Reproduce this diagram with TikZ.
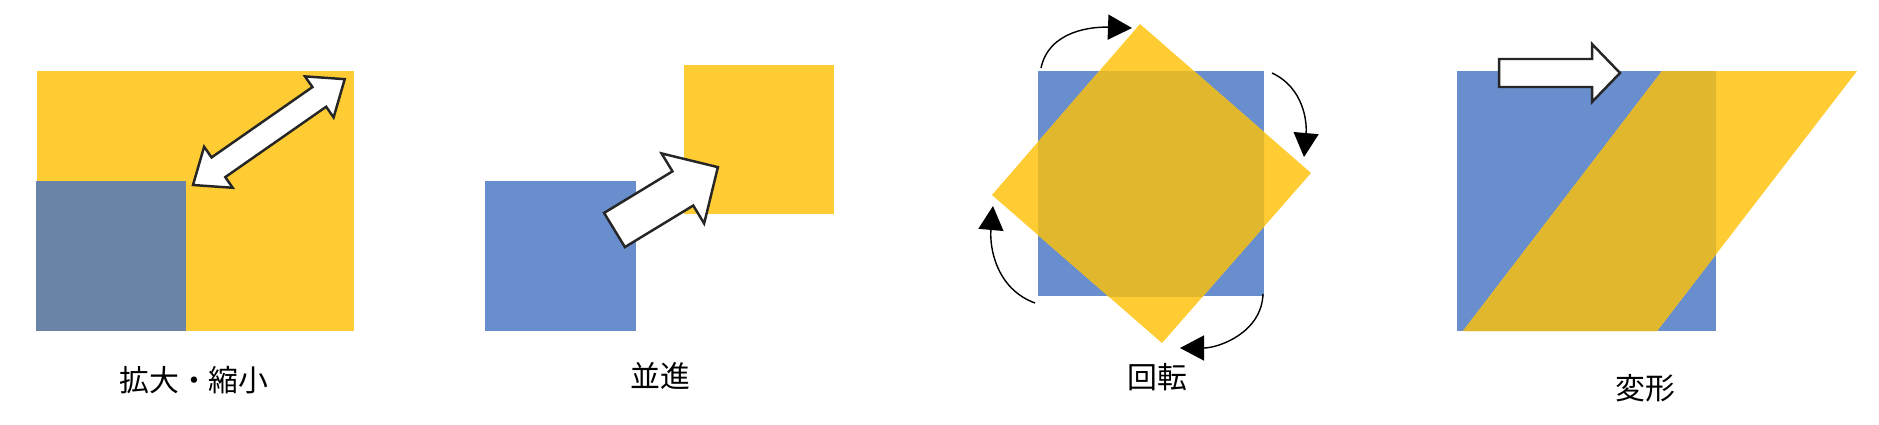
\documentclass[tikz,border=0pt]{standalone}
\usepackage{fontspec}
\newfontfamily\jpfont{Noto Sans CJK JP}
\usepackage{tikz}
\usetikzlibrary{arrows.meta}
\definecolor{tuhuang}{RGB}{255,204,51}
\definecolor{tulan}{RGB}{105,142,206}
\definecolor{huilan}{RGB}{106,132,168}
\definecolor{chongdie}{RGB}{224,183,45}
\tikzset{
	jiantou/.style={fill=white, draw=black!85, line width=0.7pt, line join=miter},
	huxian/.style={line width=0.4pt, -{Triangle[length=2.4mm,width=2.5mm]}},
	biaoti/.style={font=\jpfont\fontsize{8.5pt}{10pt}\selectfont, inner sep=0pt},
}

\begin{document}
\begin{tikzpicture}[x=0.01cm, y=0.01cm]
	\useasboundingbox (0,0) rectangle (1879,-424);
	
	% ===================== 第一个图 (拡大・縮小) =====================
	\fill[tuhuang] (37,-71) rectangle (354,-331);
	\fill[huilan] (36,-181) rectangle (186,-331);
	
	% 双向箭头
	\begin{scope}[shift={(193,-185)}, rotate=34.9]
		\draw[jiantou] (0,0) -- (31,25) -- (31,12) -- (154,12) -- (154,25) -- (185,0)
		-- (154,-25) -- (154,-12) -- (31,-12) -- (31,-25) -- cycle;
	\end{scope}
	
	\path (194,-380) node[biaoti] (lbl_1) {拡大・縮小};
	
	% ===================== 第二个图 (並進) =====================
	\fill[tulan] (485,-181) rectangle (636,-331);
	\fill[tuhuang] (684,-65) rectangle (834,-214);
	
	% 平移箭头
	\begin{scope}[shift={(614.5,-230)}, rotate=31.3]
		\draw[jiantou] (0,20) -- (80,20) -- (80,41) -- (121,0) -- (80,-41) -- (80,-20)
		-- (0,-20) -- cycle;
	\end{scope}
	
	\path (660,-376) node[biaoti] (lbl_2) {並進};
	
	% ===================== 第三个图 (回転) =====================
	\fill[tulan] (1038,-71) rectangle (1264,-296);
	\fill[tuhuang] (1140,-24) -- (1311,-173) -- (1162,-343) -- (992,-195) -- cycle;
	\begin{scope}
		\clip (1038,-71) rectangle (1264,-296);
		\fill[chongdie] (1140,-24) -- (1311,-173) -- (1162,-343) -- (992,-195) -- cycle;
	\end{scope}
	
	\path
	(1041,-68)  coordinate (s_1)
	(1132,-28)  coordinate (e_1)
	(1272,-73)  coordinate (s_2)
	(1304,-157) coordinate (e_2)
	(1263,-294) coordinate (s_3)
	(1180,-348) coordinate (e_3)
	(1035,-303) coordinate (s_4)
	(993,-206)  coordinate (e_4);
	
	% 旋转弧线
	\draw[huxian] (s_1) to[out=78, in=178] (e_1);
	\draw[huxian] (s_2) to[out=-25, in=85] (e_2);
	\draw[huxian] (s_3) to[out=-92, in=0] (e_3);
	\draw[huxian] (s_4) to[out=160, in=-95] (e_4);
	
	\path (1157,-377) node[biaoti] (lbl_3) {回転};
	
	% ===================== 第四个图 (変形) =====================
	\fill[tulan] (1457,-71) rectangle (1716,-331);
	\fill[tuhuang] (1662,-71) -- (1857,-71) -- (1657,-331) -- (1463,-331) -- cycle;
	\begin{scope}
		\clip (1457,-71) rectangle (1716,-331);
		\fill[chongdie] (1662,-71) -- (1857,-71) -- (1657,-331) -- (1463,-331) -- cycle;
	\end{scope}
	
	% 右向箭头
	\draw[jiantou] (1499,-59) -- (1592,-59) -- (1592,-44) -- (1620,-73) -- (1592,-102)
	-- (1592,-87) -- (1499,-87) -- cycle;
	
	\path (1645,-388) node[biaoti] (lbl_4) {変形};
\end{tikzpicture}
\end{document}
